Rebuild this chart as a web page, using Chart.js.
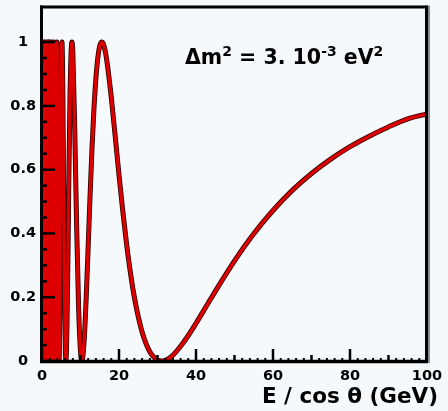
<!doctype html>
<html>
<head>
<title>Survival probability vs E / cos theta</title>
<script src="https://cdn.jsdelivr.net/npm/chart.js@4.4.1/dist/chart.umd.min.js"></script>
<style>
body { margin: 0; background: #f5f9fc; }
canvas { display: block; }
</style>
</head>
<body>
<canvas id="chart-area" width="448" height="411"></canvas>
<script>
// E / cos(theta) in GeV
var energy = [0.05, 0.2, 0.35, 0.5, 0.65, 0.8, 0.95, 1.1, 1.25, 1.4, 1.55, 1.64, 1.73, 1.83, 1.94,
    2.07, 2.22, 2.39, 2.59, 2.82, 3.11, 3.45, 3.88, 4.0, 4.1, 4.2, 4.3, 4.44, 4.6, 4.8, 5.0, 5.18,
    5.4, 5.6, 5.8, 6.0, 6.21, 6.5, 6.8, 7.0, 7.3, 7.5, 7.77, 8.0, 8.5, 9.0, 9.5, 10.0, 10.36, 10.5,
    11, 11.5, 12, 12.5, 13, 13.5, 14, 14.5, 15, 15.5, 16, 16.5, 17, 18, 19, 20, 21, 22, 23, 24, 25,
    26, 27, 28, 29, 30, 31, 32, 33, 34, 36, 38, 40, 42, 46, 50, 55, 60, 65, 70, 75, 80, 85, 90, 95, 100];
// probability at each point
var prob = [1, 0, 1, 0, 1, 0, 1, 0, 1, 0, 1, 0, 1, 0, 1,
    0, 1, 0, 1, 0, 1, 0, 1, 0.87, 0.62, 0.34, 0.12, 0, 0.14, 0.54, 0.89, 1,
    0.86, 0.57, 0.28, 0.08, 0, 0.12, 0.39, 0.6, 0.85, 0.95, 1, 0.97, 0.73, 0.42, 0.17, 0.03, 0, 0.004,
    0.074, 0.204, 0.362, 0.523, 0.67, 0.792, 0.886, 0.951, 0.988, 1, 0.992, 0.967, 0.928, 0.826, 0.706, 0.583, 0.468, 0.364, 0.274, 0.199, 0.139,
    0.091, 0.055, 0.029, 0.013, 0.003, 0, 0.002, 0.008, 0.018, 0.046, 0.08, 0.118, 0.158, 0.238, 0.314, 0.399, 0.472, 0.535, 0.588, 0.633, 0.672, 0.705, 0.734, 0.759, 0.775];

var xTicks = [0, 20, 40, 60, 80, 100];
var yTicks = [0, 0.2, 0.4, 0.6, 0.8, 1];

var bg = '#f5f9fc';
var fontName = '"DejaVu Sans", sans-serif';

var points = energy.map(function(e, i) { return { x: e, y: prob[i] }; });

function line(ctx, x1, y1, x2, y2) {
    ctx.beginPath();
    ctx.moveTo(x1, y1);
    ctx.lineTo(x2, y2);
    ctx.stroke();
}

// pieces of the delta m^2 label, sup = superscript
var note = [
    { t: '\u0394m', sup: false },
    { t: '2', sup: true },
    { t: ' = 3. 10', sup: false },
    { t: '-3', sup: true },
    { t: ' eV', sup: false },
    { t: '2', sup: true }
];

var framePlugin = {
    id: 'frame',
    beforeDraw: function(chart) {
        var ctx = chart.ctx;
        ctx.save();
        ctx.fillStyle = bg;
        ctx.fillRect(0, 0, chart.width, chart.height);
        ctx.restore();
    },
    afterDraw: function(chart) {
        var ctx = chart.ctx, a = chart.chartArea;
        var xs = chart.scales.x, ys = chart.scales.y;
        ctx.save();
        ctx.strokeStyle = '#000';
        ctx.lineCap = 'butt';

        // inward ticks on y
        ctx.lineWidth = 2.5;
        for (var i = 0; i <= 20; i++) {
            var y = ys.getPixelForValue(i * 0.05);
            line(ctx, a.left, y, a.left + (i % 4 === 0 ? 13 : 5), y);
        }
        // inward ticks on x
        for (var j = 0; j <= 50; j++) {
            var v = j * 2;
            var x = xs.getPixelForValue(v);
            var len = v % 20 === 0 ? 12 : (v % 10 === 0 ? 6 : 3);
            ctx.lineWidth = v % 10 === 0 ? 2.5 : 2;
            line(ctx, x, a.bottom, x, a.bottom - len);
        }

        // frame
        ctx.lineWidth = 3;
        line(ctx, a.left - 2, a.top, a.right, a.top);
        line(ctx, a.left - 0.5, a.top - 1.5, a.left - 0.5, a.bottom + 2);
        ctx.lineWidth = 3.5;
        line(ctx, a.left - 2, a.bottom + 0.5, a.right + 1, a.bottom + 0.5);
        ctx.lineWidth = 3;
        line(ctx, a.right - 0.5, a.top - 1.5, a.right - 0.5, a.bottom + 2);
        ctx.strokeStyle = '#8a8c90';
        ctx.lineWidth = 2;
        line(ctx, a.right + 2, a.top - 1.5, a.right + 2, a.bottom + 2);

        // axis title
        ctx.fillStyle = '#000';
        ctx.font = 'bold 21.5px ' + fontName;
        ctx.textAlign = 'right';
        ctx.textBaseline = 'alphabetic';
        ctx.fillText('E / cos \u03b8 (GeV)', 438, 403);

        // delta m^2 label
        ctx.textAlign = 'left';
        var px = 185;
        note.forEach(function(p) {
            ctx.font = 'bold ' + (p.sup ? 14 : 20.5) + 'px ' + fontName;
            ctx.fillText(p.t, px, p.sup ? 56 : 64);
            px += ctx.measureText(p.t).width;
        });
        ctx.restore();
    }
};

var config = {
    type: 'line',
    data: {
        datasets: [{
            data: points,
            borderColor: '#dd0000',
            borderWidth: 3.4,
            pointRadius: 0,
            cubicInterpolationMode: 'monotone',
            borderJoinStyle: 'round',
            fill: false
        }, {
            data: points,
            borderColor: '#2a0000',
            borderWidth: 5,
            pointRadius: 0,
            cubicInterpolationMode: 'monotone',
            borderJoinStyle: 'round',
            fill: false
        }]
    },
    options: {
        responsive: false,
        animation: false,
        layout: { padding: { top: 7, right: 21, bottom: 0, left: 0 } },
        plugins: {
            legend: { display: false },
            tooltip: { enabled: false },
            title: { display: false }
        },
        scales: {
            x: {
                type: 'linear',
                min: 0,
                max: 100,
                grid: { display: false, drawTicks: false },
                border: { display: false },
                afterBuildTicks: function(scale) {
                    scale.ticks = xTicks.map(function(v) { return { value: v }; });
                },
                afterFit: function(scale) {
                    scale.height = 50;
                    scale.paddingLeft = 0;
                    scale.paddingRight = 0;
                },
                ticks: {
                    color: '#000',
                    padding: 7,
                    maxRotation: 0,
                    font: { family: fontName, weight: 'bold', size: 14.5 },
                    callback: function(v) { return String(v); }
                }
            },
            y: {
                min: 0,
                max: 1.11,
                grid: { display: false, drawTicks: false },
                border: { display: false },
                afterBuildTicks: function(scale) {
                    scale.ticks = yTicks.map(function(v) { return { value: v }; });
                },
                afterFit: function(scale) {
                    scale.width = 42;
                    scale.paddingTop = 0;
                    scale.paddingBottom = 0;
                },
                ticks: {
                    color: '#000',
                    padding: 6,
                    crossAlign: 'center',
                    font: { family: fontName, weight: 'bold', size: 14.5 },
                    callback: function(v) { return String(Math.round(v * 10) / 10); }
                }
            }
        }
    },
    plugins: [framePlugin]
};

window.onload = function() {
    var ctx = document.getElementById('chart-area').getContext('2d');
    window.myChart = new Chart(ctx, config);
};
</script>
</body>
</html>
